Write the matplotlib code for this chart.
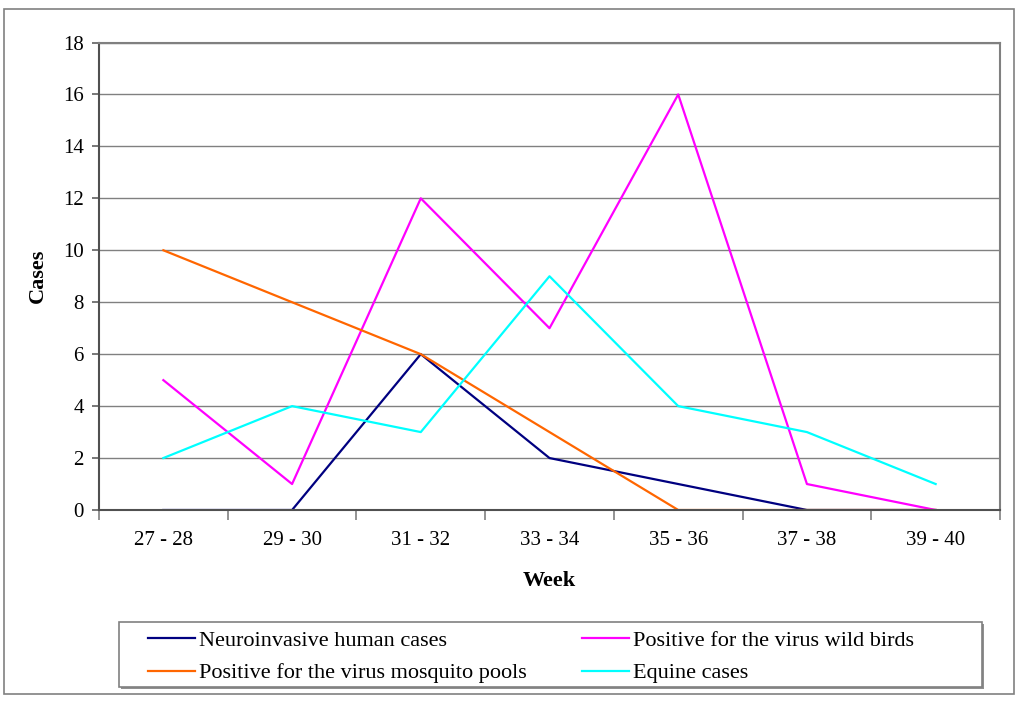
"""West Nile virus surveillance cases by week"""
import matplotlib.pyplot as plt
from matplotlib.patches import Rectangle

plt.rcParams["font.family"] = ["Liberation Serif", "DejaVu Serif"]

# data
weeks = ["27 - 28", "29 - 30", "31 - 32", "33 - 34", "35 - 36", "37 - 38", "39 - 40"]
human = [0, 0, 6, 2, 1, 0, 0]
birds = [5, 1, 12, 7, 16, 1, 0]
mosquito = [10, 8, 6, 3, 0, 0, 0]
equine = [2, 4, 3, 9, 4, 3, 1]

W, H = 1024, 711
fig = plt.figure(figsize=(W / 100, H / 100), dpi=100)

# 外枠
fig.patches.append(Rectangle((4 / W, (H - 694) / H), 1010 / W, 685 / H,
                             transform=fig.transFigure, fill=False,
                             edgecolor="#808080", linewidth=1.2))

ax = fig.add_axes([99 / W, (H - 510) / H, 901 / W, 467.5 / H])
x = list(range(len(weeks)))

l1, = ax.plot(x, human, color="#000080", lw=1.6, label="Neuroinvasive human cases")
l2, = ax.plot(x, birds, color="#FF00FF", lw=1.6, label="Positive for the virus wild birds")
l3, = ax.plot(x, mosquito, color="#FF6600", lw=1.6, label="Positive for the virus mosquito pools")
l4, = ax.plot(x, equine, color="#00FFFF", lw=1.6, label="Equine cases")

ax.set_xlim(-0.5, len(weeks) - 0.5)
ax.set_ylim(0, 18)
ax.set_yticks(range(0, 19, 2))
ax.yaxis.grid(True, color="#808080", linewidth=1)
ax.set_axisbelow(True)

# カテゴリ境界に目盛り、中央にラベル
ax.set_xticks([i - 0.5 for i in range(len(weeks) + 1)])
ax.set_xticklabels([])
ax.set_xticks(x, minor=True)
ax.set_xticklabels(weeks, minor=True, fontsize=15)
ax.tick_params(axis="x", which="minor", length=0, pad=15)
ax.tick_params(axis="x", which="major", length=7, color="#808080", width=1.2)
ax.tick_params(axis="y", length=5, color="#606060", width=1.2, labelsize=15, pad=6)

for side in ["top", "right"]:
    ax.spines[side].set_color("#808080")
    ax.spines[side].set_linewidth(1.5)
for side in ["left", "bottom"]:
    ax.spines[side].set_color("#505050")
    ax.spines[side].set_linewidth(1.5)

ax.set_ylabel("Cases", fontsize=16, fontweight="bold", labelpad=11)
ax.set_xlabel("Week", fontsize=16, fontweight="bold", labelpad=15)

# 凡例の枠（影付き）
fig.patches.append(Rectangle((121 / W, (H - 689) / H), 863 / W, 65.5 / H,
                             transform=fig.transFigure, facecolor="#909090",
                             edgecolor="none", zorder=1))
fig.patches.append(Rectangle((119 / W, (H - 687) / H), 863 / W, 65.5 / H,
                             transform=fig.transFigure, facecolor="white",
                             edgecolor="#808080", linewidth=1.2, zorder=2))

leg_kw = dict(loc="upper left", frameon=False, fontsize=16, handlelength=2.1,
              handletextpad=0.2, labelspacing=0.55, borderpad=0, borderaxespad=0)
fig.legend(handles=[l1, l3], bbox_to_anchor=(148 / W, (H - 630) / H), **leg_kw)
fig.legend(handles=[l2, l4], bbox_to_anchor=(582 / W, (H - 630) / H), **leg_kw)

plt.savefig("out.png", dpi=100)
